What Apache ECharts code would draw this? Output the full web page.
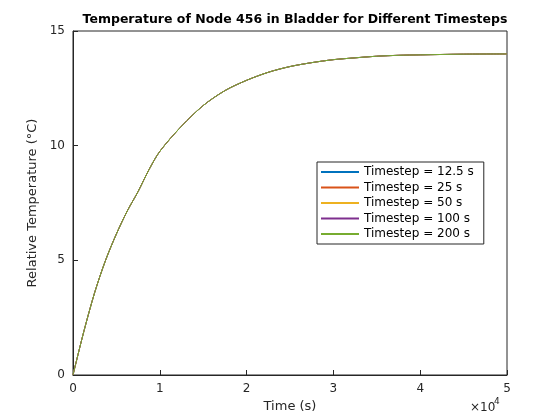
<!DOCTYPE html>
<html><head><meta charset="utf-8">
<script src="https://cdn.jsdelivr.net/npm/echarts@6/dist/echarts.min.js"></script>
<style>body{margin:0}#main{width:560px;height:420px}</style>
</head><body><div id="main"></div>
<script>
// curve (all timesteps overlap)
var timeS = [0, 1250, 2500, 3750, 5000, 6250, 7500, 8750, 10000, 12500, 15000, 17500, 20000, 22500, 25000, 27500, 30000, 32500, 35000, 37500, 40000, 45000, 50000];
var tempC = [0, 1.9, 3.6, 5.0, 6.15, 7.15, 8.0, 8.95, 9.75, 10.85, 11.75, 12.4, 12.85, 13.2, 13.45, 13.62, 13.75, 13.83, 13.9, 13.94, 13.96, 13.99, 14.0];
var seriesNames = ['Timestep = 12.5 s', 'Timestep = 25 s', 'Timestep = 50 s', 'Timestep = 100 s', 'Timestep = 200 s'];
var colors = ['#0072BD', '#D95319', '#EDB120', '#7E2F8E', '#77AC30'];

var pts = timeS.map(function (t, i) { return [t, tempC[i]]; });
var series = seriesNames.map(function (n) {
	return { name: n, type: 'line', data: pts, symbol: 'none', smooth: 0.3, lineStyle: { width: 1 } };
});

var axisCommon = {
	axisLine: { show: true, onZero: false, lineStyle: { color: '#262626' } },
	axisTick: { inside: true, length: 5, lineStyle: { color: '#262626' } },
	axisLabel: { color: '#262626', fontSize: 12, fontFamily: 'DejaVu Sans' },
	splitLine: { show: false },
	nameLocation: 'middle',
	nameTextStyle: { color: '#262626', fontSize: 13, fontFamily: 'DejaVu Sans' }
};

var chart = echarts.init(document.getElementById('main'));
chart.setOption({
	color: colors,
	animation: false,
	title: {
		text: 'Temperature of Node 456 in Bladder for Different Timesteps',
		left: 290, top: 8, textAlign: 'center',
		textStyle: { fontSize: 12.5, fontWeight: 'bold', color: '#000', fontFamily: 'DejaVu Sans' }
	},
	grid: { left: 73, right: 53, top: 31, bottom: 45, show: true, borderColor: '#262626', borderWidth: 1 },
	legend: {
		orient: 'vertical', left: 317, top: 162, itemWidth: 38, itemHeight: 2, itemGap: 3.5,
		padding: [4, 10, 4, 4], borderColor: '#262626', borderWidth: 1, backgroundColor: '#fff',
		icon: 'rect',
		textStyle: { fontSize: 12, color: '#000', fontFamily: 'DejaVu Sans' }
	},
	xAxis: Object.assign({}, axisCommon, {
		type: 'value', min: 0, max: 50000, interval: 10000, name: 'Time (s)', nameGap: 22,
		axisLabel: Object.assign({}, axisCommon.axisLabel, { formatter: function (v) { return v / 10000; } })
	}),
	yAxis: Object.assign({}, axisCommon, {
		type: 'value', min: 0, max: 15, interval: 5, name: 'Relative Temperature (°C)', nameGap: 30
	}),
	graphic: [{
		type: 'text', left: 470, top: 402,
		style: { text: '×10', fontSize: 12, fill: '#262626', fontFamily: 'DejaVu Sans' }
	}, {
		type: 'text', left: 494, top: 397,
		style: { text: '4', fontSize: 9, fill: '#262626', fontFamily: 'DejaVu Sans' }
	}],
	series: series
});
</script></body></html>
